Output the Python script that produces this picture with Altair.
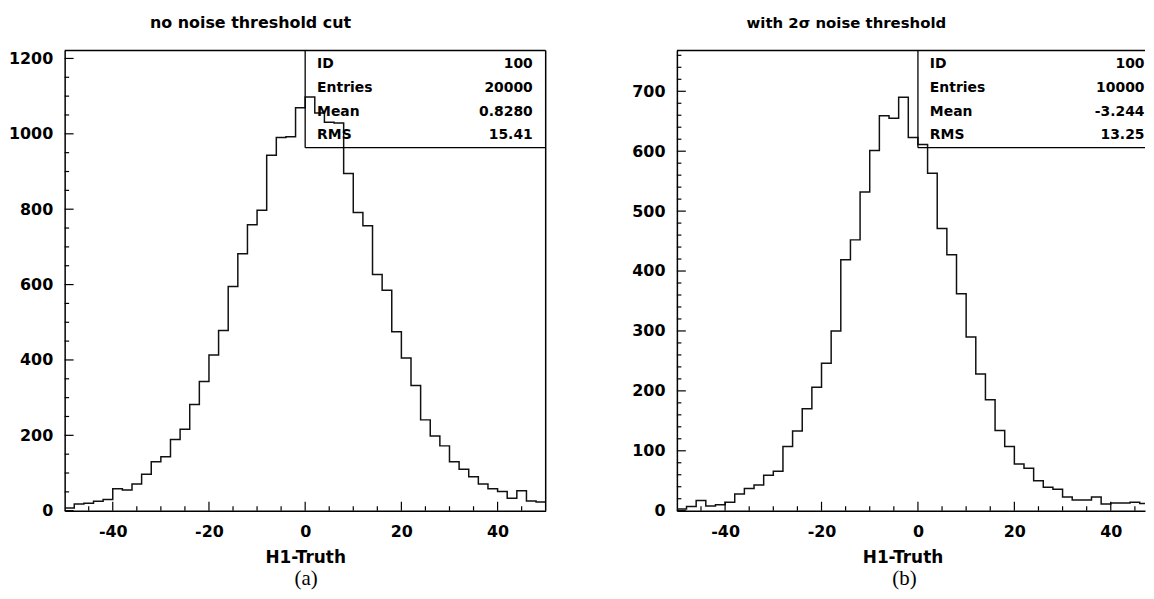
import altair as alt
import pandas as pd

# ---------------- data ----------------
bin_edges = [-50 + 2 * i for i in range(51)]  # 50 bins of width 2 from -50 to 50

counts_a = [7, 18, 20, 25, 30, 58, 55, 71, 97, 130,
            143, 189, 216, 282, 343, 413, 478, 595, 682, 759,
            797, 943, 990, 992, 1069, 1098, 1055, 1031, 1029, 895,
            791, 756, 627, 585, 475, 405, 332, 241, 198, 172,
            130, 110, 90, 71, 58, 51, 33, 53, 26, 23]

counts_b = [3, 7, 17, 8, 10, 14, 28, 37, 43, 59,
            66, 107, 133, 170, 206, 246, 300, 419, 452, 532,
            601, 659, 655, 690, 623, 611, 563, 471, 427, 362,
            290, 228, 185, 134, 107, 78, 71, 50, 39, 36,
            23, 18, 18, 23, 11, 13, 13, 14, 12, 10]

stat_names = ["ID", "Entries", "Mean", "RMS"]
stat_vals_a = ["100", "20000", "0.8280", "15.41"]
stat_vals_b = ["100", "10000", "-3.244", "13.25"]

panel_titles = ["no noise threshold cut", "with 2\u03c3 noise threshold"]
captions = ["(a)", "(b)"]
x_title = "H1-Truth"

x_major = [-40, -20, 0, 20, 40]
x_minor = [-45, -35, -30, -25, -15, -10, -5, 5, 10, 15, 25, 30, 35, 45]
y_major_a = [0, 200, 400, 600, 800, 1000, 1200]
y_minor_a = [v for v in range(50, 1201, 50) if v % 200 != 0]
y_major_b = [0, 100, 200, 300, 400, 500, 600, 700]
y_minor_b = [v for v in range(20, 761, 20) if v % 100 != 0]

# ---------------- styling ----------------
SANS = "DejaVu Sans"
SERIF = "Liberation Serif"
INK = "#111111"
H = 463


def panel(counts, x_max, W, y_max, y_major, y_minor, stat_vals, title, title_dx, title_size,
          caption, caption_x, axis_title_x=None, right_frame=True):
    hist_df = pd.DataFrame({"x": bin_edges, "y": counts + [counts[-1]]})

    xaxis_kw = dict(values=x_major, labelExpr="'' + datum.value", title=x_title,
                    ticks=False, grid=False, domain=True, domainColor="black",
                    domainWidth=1.5, labelPadding=13, titlePadding=10)
    if axis_title_x is not None:
        xaxis_kw["titleX"] = axis_title_x
    X = alt.X("x:Q", scale=alt.Scale(domain=[-50, x_max], nice=False, zero=False),
              axis=alt.Axis(**xaxis_kw))
    Y = alt.Y("y:Q", scale=alt.Scale(domain=[0, y_max], nice=False, zero=True),
              axis=alt.Axis(values=y_major, labelExpr="'' + datum.value", title=None,
                            ticks=False, grid=False, domain=True, domainColor="black",
                            domainWidth=1.5, labelPadding=12, minExtent=56, maxExtent=56))

    layers = []
    layers.append(alt.Chart(hist_df).mark_line(interpolate="step-after", color=INK,
                                               strokeWidth=1.5, clip=True)
                  .encode(x=X, y=Y))
    # inward ticks
    layers.append(alt.Chart(pd.DataFrame({"x": x_major})).mark_rule(color="black", strokeWidth=1.2)
                  .encode(x=X, y=alt.value(H), y2=alt.value(H - 9)))
    layers.append(alt.Chart(pd.DataFrame({"x": x_minor})).mark_rule(color="black", strokeWidth=1.2)
                  .encode(x=X, y=alt.value(H), y2=alt.value(H - 4.5)))
    layers.append(alt.Chart(pd.DataFrame({"y": y_major})).mark_rule(color="black", strokeWidth=1.2)
                  .encode(y=Y, x=alt.value(0), x2=alt.value(9)))
    layers.append(alt.Chart(pd.DataFrame({"y": y_minor})).mark_rule(color="black", strokeWidth=1.2)
                  .encode(y=Y, x=alt.value(0), x2=alt.value(4.5)))
    # frame top (and right)
    layers.append(alt.Chart(pd.DataFrame({"x": [0]})).mark_rule(color="black", strokeWidth=1.5)
                  .encode(x=alt.value(0), x2=alt.value(W), y=alt.value(0)))
    if right_frame:
        layers.append(alt.Chart(pd.DataFrame({"x": [0]})).mark_rule(color="black", strokeWidth=1.5)
                      .encode(x=alt.value(W), y=alt.value(0), y2=alt.value(H)))
    # stats box
    box_h = 97.7
    layers.append(alt.Chart(pd.DataFrame({"x": [0]})).mark_rule(color="black", strokeWidth=1.3)
                  .encode(x=X, y=alt.value(0), y2=alt.value(box_h)))
    layers.append(alt.Chart(pd.DataFrame({"x": [0], "x2": [x_max]})).mark_rule(color="black", strokeWidth=1.3)
                  .encode(x=X, x2="x2:Q", y=alt.value(box_h)))
    zero_px = W * 50.0 / (x_max + 50.0)
    for i, (nm, vl) in enumerate(zip(stat_names, stat_vals)):
        py = 13.5 + 24 * i
        layers.append(alt.Chart(pd.DataFrame({"t": [nm]}))
                      .mark_text(align="left", baseline="middle", font=SANS, fontWeight="bold",
                                 fontSize=14, color="black")
                      .encode(x=alt.value(zero_px + 12), y=alt.value(py), text="t:N"))
        layers.append(alt.Chart(pd.DataFrame({"t": [vl]}))
                      .mark_text(align="right", baseline="middle", font=SANS, fontWeight="bold",
                                 fontSize=14, color="black")
                      .encode(x=alt.value(W - 13 if right_frame else W - 0.5), y=alt.value(py), text="t:N"))
    # caption
    layers.append(alt.Chart(pd.DataFrame({"t": [caption]}))
                  .mark_text(align="center", baseline="middle", font=SERIF, fontSize=21, color="black")
                  .encode(x=alt.value(caption_x), y=alt.value(H + 69), text="t:N"))

    return alt.layer(*layers).properties(
        width=W, height=H,
        title=alt.TitleParams(text=title, dx=title_dx, fontSize=title_size),
    )


W_A = 484
X_MAX_B = 47.1
W_B = 471

left = panel(counts_a, 50, W_A, 1221, y_major_a, y_minor_a, stat_vals_a,
             panel_titles[0], -55, 16, captions[0], W_A / 2 + 1)
right = panel(counts_b, X_MAX_B, W_B, 768, y_major_b, y_minor_b, stat_vals_b,
              panel_titles[1], -65, 15, captions[1], 229, axis_title_x=227, right_frame=False)

chart = (
    alt.hconcat(left, right, spacing=75)
    .properties(padding={"left": 0, "right": 0, "top": 5, "bottom": 0})
    .configure_view(stroke=None)
    .configure_axis(labelFont=SANS, labelFontWeight="bold", labelFontSize=16, labelColor="black",
                    titleFont=SANS, titleFontWeight="bold", titleFontSize=17, titleColor="black")
    .configure_title(font=SANS, fontWeight="bold", color="black",
                     anchor="middle", offset=19)
)

chart.save("out.html", embed_options={"renderer": "svg", "actions": False})
